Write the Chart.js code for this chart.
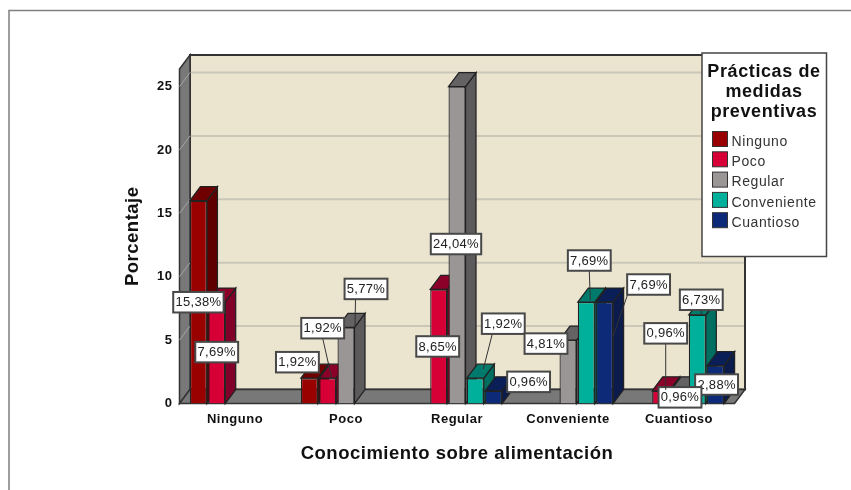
<!DOCTYPE html>
<html>
<head>
<meta charset="utf-8">
<title>Conocimiento sobre alimentación</title>
<script src="https://cdn.jsdelivr.net/npm/chart.js@4"></script>
<style>
    html, body { margin: 0; padding: 0; background: #fff; }
    canvas { display: block; }
</style>
</head>
<body>
<canvas id="chart" width="851" height="490"></canvas>
<script>
const categories = ['Ninguno', 'Poco', 'Regular', 'Conveniente', 'Cuantioso'];

const ninguno = [15.38, 1.92, null, null, null];
const poco = [7.69, 1.92, 8.65, null, 0.96];
const regular = [null, 5.77, 24.04, 4.81, 0.96];
const conveniente = [null, null, 1.92, 7.69, 6.73];
const cuantioso = [null, null, 0.96, 7.69, 2.88];

// the axis counts cases (25 = 24,04%), so ticks sit on the matching percentages
const tickValues = [0, 4.81, 9.62, 14.42, 19.23, 24.04];
const tickLabels = ['0', '5', '10', '15', '20', '25'];

const legendTitle = ['Prácticas de', 'medidas', 'preventivas'];

const FONT = '"Liberation Sans", Arial, sans-serif';
const DEPTH_X = 10.5;
const DEPTH_Y = 14;

const seriesStyles = [
    { label: 'Ninguno', data: ninguno, front: '#990000', side: '#5f0000', top: '#6e0000' },
    { label: 'Poco', data: poco, front: '#d60036', side: '#80002a', top: '#8a0028' },
    { label: 'Regular', data: regular, front: '#9a9696', side: '#5c5a5a', top: '#646262' },
    { label: 'Conveniente', data: conveniente, front: '#00b09a', side: '#006f62', top: '#007a6c' },
    { label: 'Cuantioso', data: cuantioso, front: '#0c2a78', side: '#0a1b4c', top: '#0a1f58' }
];

// value box placement relative to the top centre of each bar, [dx, dy]
const labelOffsets = [
    [[0, 101.5], [-12, -16], null, null, null],
    [[0, 50], [-5, -50], [-1, 57], null, [5, -57.5]],
    [null, [20, -38.5], [-1, 157.5], [-22, 3.5], [1, 6.5]],
    [null, null, [28, -54.5], [3, -41.6], [4, -15]],
    [null, null, [35, -9], [44, -17.6], [1, 19]]
];

// lead lines: end point from the bar top, then where they leave the box bottom
const leaderEnds = [
    [null, null, null, null, null],
    [null, [4, 0, 0], null, null, [5, -1, 0]],
    [null, [9, -1, -10.5], null, null, null],
    [null, null, [8, -9, -11], [4, -2, 0], [4, 0, 0]],
    [null, null, null, [8.5, 34, -21], null]
];

function polygon(ctx, points, fill, stroke) {
    ctx.beginPath();
    points.forEach((p, i) => i === 0 ? ctx.moveTo(p[0], p[1]) : ctx.lineTo(p[0], p[1]));
    ctx.closePath();
    ctx.fillStyle = fill;
    ctx.fill();
    ctx.strokeStyle = stroke;
    ctx.stroke();
}

function drawOuterFrame(ctx) {
    ctx.save();
    ctx.strokeStyle = '#7f7f7f';
    ctx.lineWidth = 1.5;
    ctx.beginPath();
    ctx.moveTo(9, 490);
    ctx.lineTo(9, 10.5);
    ctx.lineTo(851, 10.5);
    ctx.stroke();
    ctx.restore();
}

function drawWalls(chart) {
    const ctx = chart.ctx;
    const { left, right, top, bottom } = chart.chartArea;
    const y = chart.scales.y;

    ctx.save();
    ctx.lineWidth = 2;
    polygon(ctx, [[left + DEPTH_X, top - DEPTH_Y], [right + DEPTH_X, top - DEPTH_Y], [right + DEPTH_X, bottom - DEPTH_Y], [left + DEPTH_X, bottom - DEPTH_Y]], '#ebe5d0', '#333');

    for (const value of tickValues.slice(1)) {
        const py = y.getPixelForValue(value);
        ctx.strokeStyle = '#cbc7b8';
        ctx.lineWidth = 2;
        ctx.beginPath();
        ctx.moveTo(left + DEPTH_X, py - DEPTH_Y);
        ctx.lineTo(right + DEPTH_X - 1, py - DEPTH_Y);
        ctx.stroke();
    }

    ctx.lineWidth = 1.5;
    polygon(ctx, [[left, top], [left + DEPTH_X, top - DEPTH_Y], [left + DEPTH_X, bottom - DEPTH_Y], [left, bottom]], '#787878', '#333');
    polygon(ctx, [[left, bottom], [left + DEPTH_X, bottom - DEPTH_Y], [right + DEPTH_X, bottom - DEPTH_Y], [right, bottom]], '#787878', '#333');

    for (const value of tickValues.slice(1)) {
        const py = y.getPixelForValue(value);
        ctx.strokeStyle = '#a5a5a5';
        ctx.lineWidth = 1;
        ctx.beginPath();
        ctx.moveTo(left, py);
        ctx.lineTo(left + DEPTH_X, py - DEPTH_Y);
        ctx.stroke();
    }
    ctx.restore();
}

// side and top faces go on left to right, the fronts are the chart's own bars
function drawBarDepth(chart) {
    const ctx = chart.ctx;
    const faces = [];

    chart.data.datasets.forEach((dataset, d) => {
        chart.getDatasetMeta(d).data.forEach((bar, i) => {
            if (dataset.data[i] !== null) faces.push({ bar, style: seriesStyles[d] });
        });
    });
    faces.sort((a, b) => a.bar.x - b.bar.x);

    ctx.save();
    ctx.lineWidth = 1.25;
    for (const { bar, style } of faces) {
        const l = bar.x - bar.width / 2;
        const r = bar.x + bar.width / 2;
        polygon(ctx, [[r, bar.y], [r + DEPTH_X, bar.y - DEPTH_Y], [r + DEPTH_X, bar.base - DEPTH_Y], [r, bar.base]], style.side, '#222');
        polygon(ctx, [[l, bar.y], [l + DEPTH_X, bar.y - DEPTH_Y], [r + DEPTH_X, bar.y - DEPTH_Y], [r, bar.y]], style.top, '#222');
    }
    ctx.restore();
}

function drawValueLabels(chart) {
    const ctx = chart.ctx;
    const boxH = 20.5;

    ctx.save();
    ctx.font = '13px ' + FONT;
    ctx.letterSpacing = '0.3px';
    ctx.textAlign = 'center';
    ctx.textBaseline = 'middle';

    // last series first, the earlier boxes sit on top where they collide
    for (let d = chart.data.datasets.length - 1; d >= 0; d--) {
        const dataset = chart.data.datasets[d];
        chart.getDatasetMeta(d).data.forEach((bar, i) => {
            if (dataset.data[i] === null) return;
            const text = dataset.data[i].toFixed(2).replace('.', ',') + '%';
            const boxW = ctx.measureText(text).width + 4.5;
            const offset = labelOffsets[d][i];
            const cx = bar.x + offset[0];
            const cy = bar.y + offset[1];
            const end = leaderEnds[d][i];

            if (end) {
                ctx.strokeStyle = '#333';
                ctx.lineWidth = 1;
                ctx.beginPath();
                ctx.moveTo(cx + end[2], cy + boxH / 2);
                ctx.lineTo(bar.x + end[0], bar.y + end[1]);
                ctx.stroke();
            }

            ctx.fillStyle = '#fff';
            ctx.strokeStyle = '#484848';
            ctx.lineWidth = 2;
            ctx.fillRect(cx - boxW / 2, cy - boxH / 2, boxW, boxH);
            ctx.strokeRect(cx - boxW / 2, cy - boxH / 2, boxW, boxH);

            ctx.fillStyle = '#222';
            ctx.fillText(text, cx, cy + 0.5);
        });
    }
    ctx.restore();
}

function drawLegend(chart) {
    const ctx = chart.ctx;
    const x = 702;
    const y = 53;

    ctx.save();
    ctx.fillStyle = '#fff';
    ctx.strokeStyle = '#444';
    ctx.lineWidth = 1.5;
    ctx.fillRect(x, y, 124.5, 203.5);
    ctx.strokeRect(x, y, 124.5, 203.5);

    ctx.fillStyle = '#111';
    ctx.font = 'bold 18px ' + FONT;
    ctx.letterSpacing = '0.6px';
    ctx.textAlign = 'center';
    ctx.textBaseline = 'middle';
    legendTitle.forEach((line, i) => ctx.fillText(line, x + 62, y + 19.5 + i * 19.7));

    ctx.font = '14px ' + FONT;
    ctx.letterSpacing = '0.6px';
    ctx.textAlign = 'left';
    seriesStyles.forEach((series, i) => {
        const rowY = y + 78.5 + i * 20.3;
        ctx.fillStyle = series.front;
        ctx.strokeStyle = '#333';
        ctx.lineWidth = 1;
        ctx.fillRect(x + 10.5, rowY, 15, 15);
        ctx.strokeRect(x + 10.5, rowY, 15, 15);
        ctx.fillStyle = '#333';
        ctx.fillText(series.label, x + 29.5, rowY + 10.5);
    });
    ctx.restore();
}

const depthPlugin = {
    id: 'depth',
    beforeDraw(chart) {
        // axis text runs slightly wide
        chart.ctx.letterSpacing = '0.5px';
    },
    beforeDatasetsDraw(chart) {
        drawOuterFrame(chart.ctx);
        drawWalls(chart);
        drawBarDepth(chart);
    },
    afterDatasetsDraw(chart) {
        drawValueLabels(chart);
        drawLegend(chart);
    }
};

new Chart(document.getElementById('chart'), {
    type: 'bar',
    data: {
        labels: categories,
        datasets: seriesStyles.map(s => ({
            label: s.label,
            data: s.data,
            backgroundColor: s.front,
            borderColor: '#222',
            borderWidth: 1.25,
            categoryPercentage: 0.824,
            barPercentage: 0.93
        }))
    },
    options: {
        responsive: false,
        animation: false,
        layout: { padding: { left: 122, right: 116.5, top: 69, bottom: 24.5 } },
        plugins: {
            legend: { display: false },
            tooltip: { enabled: false }
        },
        scales: {
            x: {
                grid: { display: false, drawTicks: false },
                border: { display: false },
                ticks: {
                    color: '#111',
                    padding: 8,
                    maxRotation: 0,
                    font: { family: FONT, size: 13, weight: 'bold' }
                },
                title: {
                    display: true,
                    text: 'Conocimiento sobre alimentación',
                    color: '#111',
                    padding: 0,
                    font: { family: FONT, size: 18.5, weight: 'bold' }
                },
                afterFit(axis) { axis.height = 62; }
            },
            y: {
                min: 0,
                max: 25.37,
                grid: { display: false, drawTicks: false },
                border: { display: false },
                afterBuildTicks(axis) { axis.ticks = tickValues.map(value => ({ value })); },
                ticks: {
                    color: '#111',
                    padding: 7,
                    callback: (value, index) => tickLabels[index],
                    font: { family: FONT, size: 13, weight: 'bold' }
                },
                title: {
                    display: true,
                    text: 'Porcentaje',
                    color: '#111',
                    padding: 0,
                    font: { family: FONT, size: 18.5, weight: 'bold' }
                },
                afterFit(axis) { axis.width = 57.5; }
            }
        }
    },
    plugins: [depthPlugin]
});
</script>
</body>
</html>
